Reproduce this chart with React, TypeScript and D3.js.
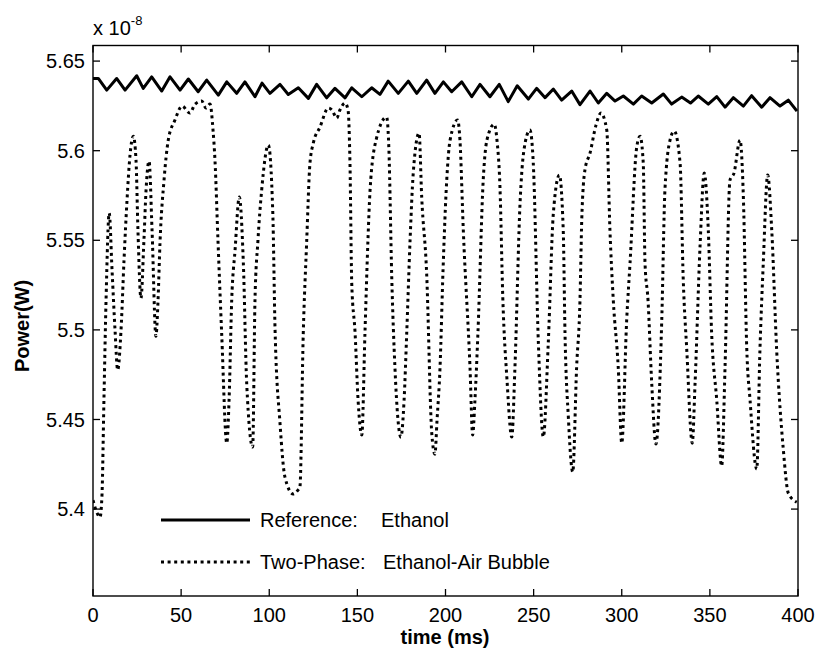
import React from "react";
import * as d3 from "d3";

// Reference: Ethanol (x 1e-8 W), time in ms
const refTime = [0, 3.0, 7.8, 13.4, 18.2, 24.8, 28.5, 33.3, 39.0, 43.7, 49.4, 54.1, 59.7, 64.5, 71.1, 75.9, 81.5, 86.2, 91.9, 95.9, 100.4, 106.1, 110.8, 116.5, 122.2, 126.9, 132.6, 137.3, 143.0, 146.8, 152.5, 158.1, 162.8, 167.5, 173.2, 178.9, 183.7, 189.3, 194.0, 198.8, 203.5, 209.2, 214.9, 219.6, 225.2, 230.5, 235.6, 240.7, 247.0, 251.7, 256.5, 261.2, 265.9, 271.6, 276.3, 282.0, 286.7, 291.5, 296.2, 300.9, 306.6, 311.3, 317.0, 323.6, 328.3, 334.0, 339.0, 343.4, 349.1, 353.9, 358.6, 363.3, 369.0, 373.7, 379.4, 384.1, 389.8, 394.5, 399.4];
const refPower = [5.6403, 5.6403, 5.6338, 5.6403, 5.6338, 5.6418, 5.6348, 5.6412, 5.6333, 5.6412, 5.6338, 5.6400, 5.6329, 5.6394, 5.6310, 5.6384, 5.6320, 5.6384, 5.6301, 5.6377, 5.6320, 5.6370, 5.6314, 5.6351, 5.6292, 5.6370, 5.6295, 5.6348, 5.6295, 5.6351, 5.6301, 5.6351, 5.6314, 5.6388, 5.6320, 5.6388, 5.6320, 5.6394, 5.6320, 5.6384, 5.6329, 5.6384, 5.6301, 5.6370, 5.6301, 5.6370, 5.6274, 5.6362, 5.6288, 5.6348, 5.6296, 5.6344, 5.6282, 5.6333, 5.6257, 5.6333, 5.6266, 5.6320, 5.6277, 5.6305, 5.6260, 5.6305, 5.6266, 5.6316, 5.6260, 5.6299, 5.6266, 5.6305, 5.6260, 5.6302, 5.6243, 5.6296, 5.6249, 5.6307, 5.6243, 5.6296, 5.6249, 5.6282, 5.6221];

// Two-Phase: Ethanol-Air Bubble (x 1e-8 W)
const bubbleTime = [0, 1.7, 4.0, 5.1, 6.2, 7.4, 9.2, 10.8, 12.5, 14.0, 15.9, 17.6, 19.3, 21.0, 22.9, 24.4, 25.5, 27.2, 28.9, 30.1, 31.8, 33.5, 35.7, 36.9, 38.0, 40.3, 42.7, 46.5, 50.5, 55.0, 57.9, 61.7, 64.1, 66.4, 68.1, 69.2, 70.9, 73.0, 75.9, 77.2, 78.7, 80.6, 83.0, 85.3, 87.2, 90.6, 91.9, 93.6, 95.7, 99.5, 102.0, 103.3, 106.1, 108.9, 113.6, 116.3, 117.4, 119.3, 121.2, 123.1, 125.0, 128.8, 133.5, 135.6, 138.3, 140.1, 143.0, 144.7, 145.8, 146.8, 148.7, 150.4, 152.5, 154.3, 156.0, 157.2, 160.6, 166.6, 167.9, 169.5, 171.3, 174.7, 176.5, 178.0, 179.9, 181.7, 185.0, 186.5, 189.3, 192.2, 194.0, 195.2, 196.9, 198.6, 200.7, 202.6, 206.9, 208.2, 210.1, 213.9, 215.4, 216.7, 218.4, 221.4, 223.5, 227.7, 229.2, 230.9, 232.5, 234.9, 237.6, 239.4, 242.3, 244.5, 247.9, 249.8, 252.7, 255.5, 258.3, 261.2, 264.6, 266.8, 267.8, 269.7, 272.2, 274.4, 276.3, 277.3, 279.1, 282.0, 285.4, 288.2, 291.5, 293.3, 295.2, 298.0, 300.0, 302.8, 304.7, 308.5, 310.4, 312.2, 313.2, 314.9, 317.0, 319.4, 322.7, 324.5, 327.4, 329.8, 333.1, 334.9, 336.9, 340.0, 341.6, 344.4, 346.8, 349.1, 351.0, 353.9, 356.7, 358.6, 361.4, 363.7, 367.1, 369.0, 370.9, 372.8, 376.6, 378.4, 380.3, 382.8, 385.1, 387.9, 391.7, 394.5, 399.3];
const bubblePower = [5.4050, 5.3994, 5.3955, 5.4078, 5.4608, 5.5166, 5.5652, 5.5334, 5.4999, 5.4776, 5.4999, 5.5390, 5.5724, 5.5975, 5.6081, 5.5948, 5.5557, 5.5177, 5.5501, 5.5780, 5.5942, 5.5557, 5.4965, 5.5166, 5.5484, 5.5836, 5.6059, 5.6171, 5.6249, 5.6210, 5.6260, 5.6277, 5.6238, 5.6260, 5.6115, 5.5948, 5.5501, 5.4982, 5.4368, 5.4608, 5.5166, 5.5445, 5.5741, 5.5373, 5.4703, 5.4346, 5.5166, 5.5501, 5.5780, 5.6031, 5.5657, 5.4999, 5.4480, 5.4179, 5.4084, 5.4106, 5.4123, 5.4982, 5.5484, 5.5931, 5.6042, 5.6132, 5.6238, 5.6227, 5.6182, 5.6227, 5.6266, 5.6227, 5.5931, 5.5261, 5.4982, 5.4608, 5.4413, 5.4982, 5.5501, 5.5780, 5.6059, 5.6187, 5.6003, 5.5295, 5.4792, 5.4402, 5.4608, 5.4982, 5.5501, 5.5875, 5.6098, 5.5741, 5.5317, 5.4424, 5.4307, 5.4497, 5.4792, 5.5334, 5.5836, 5.6059, 5.6171, 5.6059, 5.5557, 5.4792, 5.4413, 5.4608, 5.4982, 5.5836, 5.6059, 5.6148, 5.6059, 5.5797, 5.5183, 5.4720, 5.4402, 5.4792, 5.5708, 5.6003, 5.6115, 5.5931, 5.4926, 5.4402, 5.4926, 5.5652, 5.5864, 5.5557, 5.4982, 5.4513, 5.4207, 5.4792, 5.5166, 5.5613, 5.5892, 5.5987, 5.6143, 5.6210, 5.6115, 5.5557, 5.5166, 5.4792, 5.4368, 5.5055, 5.5373, 5.6020, 5.6081, 5.5931, 5.5373, 5.5166, 5.4703, 5.4363, 5.5055, 5.5780, 5.6059, 5.6109, 5.5931, 5.5278, 5.4887, 5.4368, 5.4703, 5.5462, 5.5875, 5.5557, 5.4982, 5.4608, 5.4240, 5.4792, 5.5836, 5.5875, 5.6059, 5.5741, 5.4904, 5.4608, 5.4223, 5.4887, 5.5373, 5.5864, 5.5557, 5.4887, 5.4329, 5.4089, 5.4039];

const xTicks = [0, 50, 100, 150, 200, 250, 300, 350, 400];
const yTicks = [5.4, 5.45, 5.5, 5.55, 5.6, 5.65];
const yTickLabels = ["5.4", "5.45", "5.5", "5.55", "5.6", "5.65"];
const legendLabels = ["Reference:", "Two-Phase:"];
const legendNames = ["Ethanol", "Ethanol-Air Bubble"];

const W = 815;
const H = 655;
const L = 93, R = 798, T = 45.5, B = 596;
const FONT = "'Liberation Sans', Arial, Helvetica, sans-serif";

export default function App() {
  const x = d3.scaleLinear().domain([0, 400]).range([L, R]);
  const y = d3.scaleLinear().domain([5.3515, 5.6587]).range([B, T]);

  const refLine = d3
    .line<number>()
    .x((_, i) => x(refTime[i]))
    .y((d) => y(d))
    .curve(d3.curveLinear)(refPower) as string;

  const bubLine = d3
    .line<number>()
    .x((_, i) => x(bubbleTime[i]))
    .y((d) => y(d))
    .curve(d3.curveMonotoneX)(bubblePower) as string;

  const tickLen = 7;
  const dotted = "3,3.6";

  return (
    <svg
      width={W}
      height={H}
      style={{ position: "absolute", left: 0, top: 0, background: "#fff" }}
      fontFamily={FONT}
    >
      <rect x={0} y={0} width={W} height={H} fill="#fff" />
      <defs>
        <clipPath id="plotclip">
          <rect x={L} y={T} width={R - L} height={B - T} />
        </clipPath>
      </defs>

      {/* data */}
      <g clipPath="url(#plotclip)">
        <path d={bubLine} fill="none" stroke="#000" strokeWidth={3} strokeDasharray={dotted} />
        <path d={refLine} fill="none" stroke="#000" strokeWidth={3} strokeLinejoin="round" />
      </g>

      {/* frame */}
      <rect x={L} y={T} width={R - L} height={B - T} fill="none" stroke="#000" strokeWidth={1.4} />

      {/* x ticks */}
      {xTicks.map((t) => (
        <g key={"x" + t}>
          <line x1={x(t)} x2={x(t)} y1={B} y2={B - tickLen} stroke="#000" strokeWidth={1.3} />
          <line x1={x(t)} x2={x(t)} y1={T} y2={T + tickLen} stroke="#000" strokeWidth={1.3} />
          <text x={x(t)} y={622} textAnchor="middle" fontSize={20} fill="#000">
            {t}
          </text>
        </g>
      ))}

      {/* y ticks */}
      {yTicks.map((t, i) => (
        <g key={"y" + t}>
          <line x1={L} x2={L + tickLen} y1={y(t)} y2={y(t)} stroke="#000" strokeWidth={1.3} />
          <line x1={R} x2={R - tickLen} y1={y(t)} y2={y(t)} stroke="#000" strokeWidth={1.3} />
          <text x={85} y={y(t)} dy="0.36em" textAnchor="end" fontSize={20} fill="#000">
            {yTickLabels[i]}
          </text>
        </g>
      ))}

      {/* exponent */}
      <text x={93} y={35} fontSize={20} fill="#000">
        x 10
        <tspan dy={-10} fontSize={13}>-8</tspan>
      </text>

      {/* axis labels */}
      <text x={445} y={644} textAnchor="middle" fontSize={20} fontWeight="bold" fill="#000">
        time (ms)
      </text>
      <text
        transform={`translate(29, 326) rotate(-90)`}
        textAnchor="middle"
        fontSize={20}
        fontWeight="bold"
        fill="#000"
      >
        Power(W)
      </text>

      {/* legend */}
      <line x1={161} x2={250} y1={520} y2={520} stroke="#000" strokeWidth={3} />
      <text x={260} y={520} dy="0.36em" fontSize={20} fill="#000">{legendLabels[0]}</text>
      <text x={381} y={520} dy="0.36em" fontSize={20} fill="#000">{legendNames[0]}</text>
      <line x1={161} x2={250} y1={562} y2={562} stroke="#000" strokeWidth={3} strokeDasharray={dotted} />
      <text x={260} y={562} dy="0.36em" fontSize={20} fill="#000">{legendLabels[1]}</text>
      <text x={383} y={562} dy="0.36em" fontSize={20} fill="#000">{legendNames[1]}</text>
    </svg>
  );
}
